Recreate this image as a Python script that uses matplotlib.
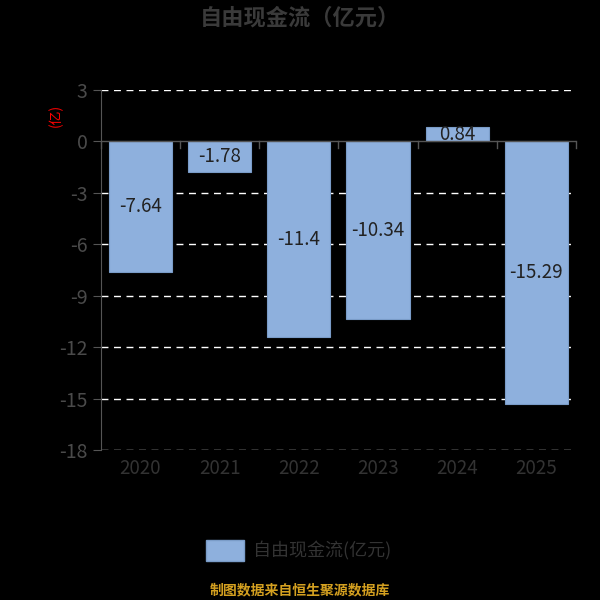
import matplotlib
matplotlib.use("Agg")
import matplotlib.pyplot as plt
from matplotlib.patches import Patch

plt.rcParams['font.family'] = ['Noto Sans CJK SC', 'DejaVu Sans']

years = ['2020', '2021', '2022', '2023', '2024', '2025']
values = [-7.64, -1.78, -11.4, -10.34, 0.84, -15.29]
labels = ['-7.64', '-1.78', '-11.4', '-10.34', '0.84', '-15.29']
yticks = [3, 0, -3, -6, -9, -12, -15, -18]

bar_color = '#8eb0dd'

fig = plt.figure(figsize=(6, 6), dpi=100, facecolor='black')
ax = fig.add_axes([0.168, 0.25, 0.792, 0.60])
ax.set_facecolor('black')

x = list(range(len(years)))
ax.bar(x, values, width=0.8, color=bar_color, edgecolor='#7a9cc8', linewidth=0.8, zorder=3)
for xi, v, lab in zip(x, values, labels):
    ax.text(xi, v / 2, lab, ha='center', va='center', fontsize=13.5, color='#222222', zorder=4)

ax.set_xlim(-0.5, len(years) - 0.5)
ax.set_ylim(-18, 3)
ax.set_yticks(yticks)
ax.set_yticklabels([str(t) for t in yticks])
for t in yticks:
    if t != 0:
        ax.axhline(t, color='white', linestyle=(0, (5, 4)), linewidth=1, zorder=1)

# zero line with category boundary ticks
ax.axhline(0, color='#555555', linewidth=1, zorder=5)
for b in range(len(years) + 1):
    ax.plot([b - 0.5, b - 0.5], [0, -0.4], color='#555555', linewidth=1, zorder=5, clip_on=False)

for s in ['top', 'right', 'bottom']:
    ax.spines[s].set_visible(False)
ax.spines['left'].set_color('#555555')
ax.tick_params(axis='y', colors='#555555', labelcolor='#4a4a4a', labelsize=14, length=6)
ax.tick_params(axis='x', length=0, labelcolor='#333333', labelsize=13.5, pad=6)
ax.set_xticks(x)
ax.set_xticklabels(years)

fig.text(0.5, 0.97, '自由现金流（亿元）', ha='center', va='center', fontsize=16,
         fontweight='bold', color='#3a3a3a')
fig.text(0.092, 0.808, '(亿)', rotation=90, ha='center', va='center', fontsize=10, color='red')

leg = fig.legend(handles=[Patch(facecolor=bar_color, edgecolor='#7a9cc8', label='自由现金流(亿元)')],
                 loc='center', bbox_to_anchor=(0.497, 0.082), frameon=False, fontsize=13,
                 labelcolor='#333333', handlelength=2.1, handleheight=1.4, handletextpad=0.5)

fig.text(0.5, 0.016, '制图数据来自恒生聚源数据库', ha='center', va='center', fontsize=10,
         fontweight='bold', color='#d4a020')

fig.savefig('out.png', dpi=100, facecolor='black')
